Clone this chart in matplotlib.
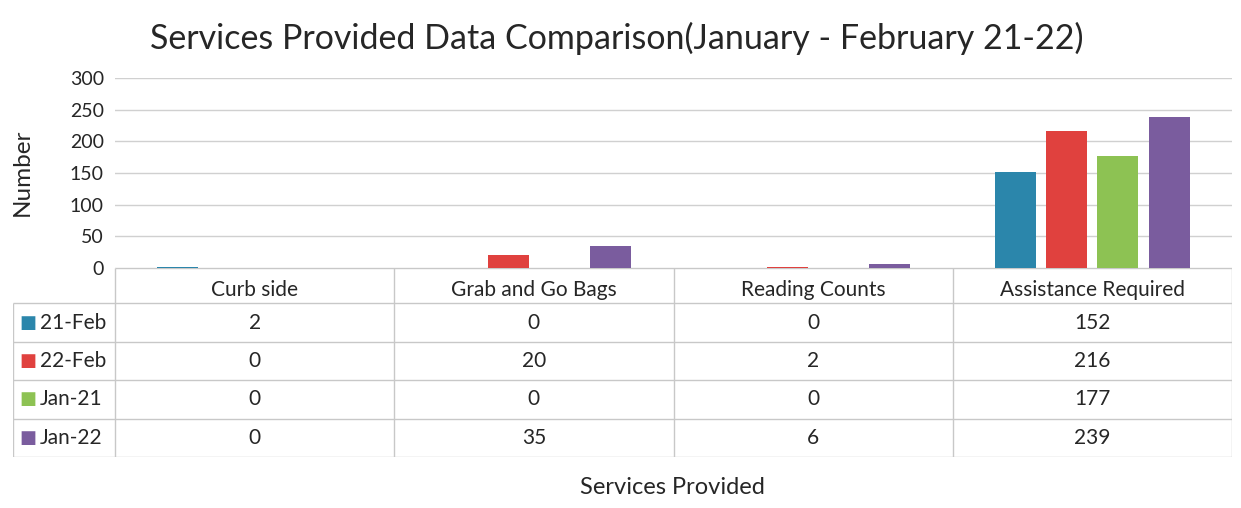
import numpy as np
import matplotlib.pyplot as plt

categories = ["Curb side", "Grab and Go Bags", "Reading Counts", "Assistance Required"]
series = ["21-Feb", "22-Feb", "Jan-21", "Jan-22"]
feb_21 = [2, 0, 0, 152]
feb_22 = [0, 20, 2, 216]
jan_21 = [0, 0, 0, 177]
jan_22 = [0, 35, 6, 239]
yticks = [0, 50, 100, 150, 200, 250, 300]

values = [feb_21, feb_22, jan_21, jan_22]
colors = ["#2B86AB", "#E0413E", "#8DC253", "#7A5C9E"]
txt = "#262626"

plt.rcParams["font.family"] = ["Lato", "DejaVu Sans"]

W, H = 1241, 508
fig = plt.figure(figsize=(W / 100, H / 100), dpi=100)

def px_axes(x0, y0, x1, y1):
    # pixel box (top-left origin) -> figure axes
    return fig.add_axes([x0 / W, 1 - y1 / H, (x1 - x0) / W, (y1 - y0) / H])

ax = px_axes(115, 78, 1232, 268)
x = np.arange(len(categories))
width = 0.147
offsets = np.array([-1.5, -0.5, 0.5, 1.5]) * 0.183
for s, vals, col, off in zip(series, values, colors, offsets):
    ax.bar(x + off, vals, width, color=col, zorder=3)

ax.set_xlim(-0.5, len(categories) - 0.5)
ax.set_ylim(0, 300)
ax.set_yticks(yticks)
ax.tick_params(axis="y", length=0, pad=8, labelsize=14, labelcolor=txt)
ax.set_xticks([])
ax.grid(axis="y", color="#d0d0d0", linewidth=1, zorder=0)
for sp in ax.spines.values():
    sp.set_visible(False)

fig.text(22 / W, 1 - 172 / H, "Number", rotation=90, ha="center", va="center",
         fontsize=17.5, color=txt)

# data table under the plot
tab = px_axes(13, 268, 1232, 457)
left = -0.5 - 102 / 279
tab.set_xlim(left, len(categories) - 0.5)
head_h = 35 / 38
tab.set_ylim(0, 4 + head_h)
tab.axis("off")
line_kw = dict(color="#c8c8c8", linewidth=1)

# header row borders
tab.hlines(4 + head_h, -0.5, len(categories) - 0.5, **line_kw)
for r in range(5):
    tab.hlines(r, left, len(categories) - 0.5, **line_kw)
tab.vlines(left, 0, 4, **line_kw)
for c in range(len(categories) + 1):
    tab.vlines(c - 0.5, 0, 4 + head_h, **line_kw)

for i, cat in enumerate(categories):
    tab.text(i, 4 + head_h / 2 - 0.1, cat, ha="center", va="center", fontsize=15, color=txt)

for r, (s, vals, col) in enumerate(zip(series, values, colors)):
    yc = 3.5 - r
    tab.text(left + 0.022, yc, "\u25a0", ha="left", va="center", fontsize=13,
             color=col, family="DejaVu Sans")
    tab.text(left + 0.095, yc, s, ha="left", va="center", fontsize=15, color=txt)
    for i, v in enumerate(vals):
        tab.text(i, yc, str(v), ha="center", va="center", fontsize=15, color=txt)

fig.text(672 / W, 1 - 488 / H, "Services Provided", ha="center", va="center",
         fontsize=17, color=txt)
fig.text(617 / W, 1 - 38 / H, "Services Provided Data Comparison(January - February 21-22)",
         ha="center", va="center", fontsize=24.5, color=txt)

fig.savefig("out.png", dpi=100, facecolor="white")
